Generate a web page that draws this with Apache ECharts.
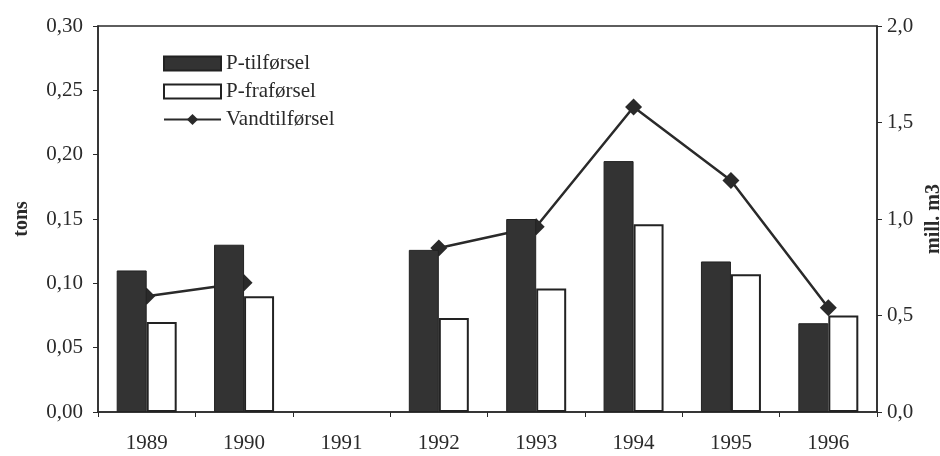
<!DOCTYPE html>
<html><head><meta charset="utf-8">
<script src="https://cdn.jsdelivr.net/npm/echarts@6/dist/echarts.min.js"></script>
<style>html,body{margin:0;padding:0;background:#fff}#c{width:940px;height:456px}</style>
</head><body><div id="c"></div>
<script>
var categories = ['1989','1990','1991','1992','1993','1994','1995','1996'];
var pTilforsel = [0.110, 0.130, null, 0.126, 0.150, 0.195, 0.117, 0.069];
var pFraforsel = [0.070, 0.090, null, 0.073, 0.096, 0.146, 0.107, 0.075];
var vandTilforsel = [0.60, 0.67, null, 0.85, 0.96, 1.58, 1.20, 0.54];
var leftTicks = {min: 0, max: 0.30, interval: 0.05};
var rightTicks = {min: 0, max: 2.0, interval: 0.5};

var font = 'Liberation Serif';
var ink = '#2a2a2a';
var chart = echarts.init(document.getElementById('c'));
chart.setOption({
  backgroundColor: '#fff',
  animation: false,
  textStyle: {fontFamily: font, color: ink},
  grid: {left: 98, right: 63, top: 26, bottom: 44, outerBoundsMode: 'none', containLabel: false,
    show: true, borderColor: ink, borderWidth: 1.5, backgroundColor: 'transparent'},
  legend: {
    orient: 'vertical', left: 158, top: 48, itemGap: 7,
    itemWidth: 57, itemHeight: 14,
    textStyle: {fontFamily: font, fontSize: 21, color: ink},
    data: [
      {name: 'P-tilførsel', icon: 'rect'},
      {name: 'P-fraførsel', icon: 'rect'},
      {name: 'Vandtilførsel'}
    ]
  },
  xAxis: {
    type: 'category', data: categories,
    axisLine: {lineStyle: {color: ink, width: 1.5}},
    axisTick: {show: true, alignWithLabel: false, length: 5, lineStyle: {color: ink}},
    axisLabel: {fontFamily: font, fontSize: 21, color: ink, margin: 21}
  },
  yAxis: [{
    type: 'value', min: leftTicks.min, max: leftTicks.max, interval: leftTicks.interval,
    name: 'tons', nameLocation: 'middle', nameRotate: 90, nameGap: 66,
    nameTextStyle: {fontFamily: font, fontSize: 20, fontWeight: 'bold', color: ink},
    axisLine: {show: true, lineStyle: {color: ink, width: 1.5}},
    axisTick: {show: true, length: 5, lineStyle: {color: ink}},
    splitLine: {show: false},
    axisLabel: {fontFamily: font, fontSize: 21, color: ink, margin: 15,
      formatter: function(v){return v.toFixed(2).replace('.', ',');}}
  }, {
    type: 'value', min: rightTicks.min, max: rightTicks.max, interval: rightTicks.interval,
    name: 'mill. m3', nameLocation: 'middle', nameRotate: 90, nameGap: 44,
    nameTextStyle: {fontFamily: font, fontSize: 20, fontWeight: 'bold', color: ink},
    axisLine: {show: true, lineStyle: {color: ink, width: 1.5}},
    axisTick: {show: true, length: 5, lineStyle: {color: ink}},
    splitLine: {show: false},
    axisLabel: {fontFamily: font, fontSize: 21, color: ink, margin: 10,
      formatter: function(v){return v.toFixed(1).replace('.', ',');}}
  }],
  series: [{
    name: 'Vandtilførsel', type: 'line', yAxisIndex: 1, data: vandTilforsel, z: 1,
    connectNulls: false, symbol: 'diamond', symbolSize: 17, showAllSymbol: true,
    lineStyle: {color: ink, width: 2.5}, itemStyle: {color: ink}
  }, {
    name: 'P-tilførsel', type: 'bar', data: pTilforsel, z: 3,
    barWidth: 30, barGap: '0%',
    itemStyle: {color: '#333333', borderColor: '#222', borderWidth: 1}
  }, {
    name: 'P-fraførsel', type: 'bar', data: pFraforsel, z: 3,
    barWidth: 30, barGap: '0%',
    itemStyle: {color: '#ffffff', borderColor: '#222', borderWidth: 2}
  }]
});
</script></body></html>
